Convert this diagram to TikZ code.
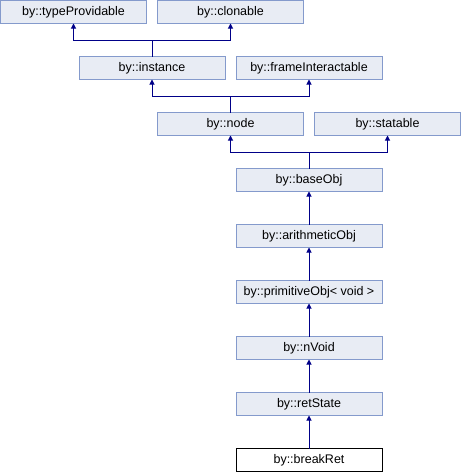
\documentclass[tikz,border=0pt]{standalone}
\usepackage{fontspec}
\setmainfont{Liberation Sans}
\usepackage{xcolor}
\usepackage{tikz}
\usetikzlibrary{arrows.meta}
\usetikzlibrary{positioning}

\definecolor{boxfill}{RGB}{232,236,244}
\definecolor{boxline}{RGB}{132,154,204}
\definecolor{edgeblue}{RGB}{0,0,136}

\tikzset{
	clsbox/.style={draw=boxline, fill=boxfill, line width=1pt, outer sep=0pt, minimum width=146pt, minimum height=23pt, inner sep=0pt, font=\fontsize{12.5}{14}\selectfont},
	curbox/.style={clsbox, draw=black, fill=white},
	inherit/.style={draw=edgeblue, line width=1pt, -{Triangle[length=5pt, width=5pt]}}
}

\begin{document}
\begin{tikzpicture}[node distance=33pt]
		\useasboundingbox (0,0) rectangle (461pt,-472pt);
		\node[clsbox, anchor=north west] at (0.5pt,-0.5pt) (typeProv) {by::typeProvidable};
		\node[clsbox, right=11pt of typeProv] (clonable) {by::clonable};
		
		\node[clsbox, below right=33pt and -67.5pt of typeProv] (instance) {by::instance};
		\node[clsbox, right=11pt of instance] (frameInter) {by::frameInteractable};
		
		\node[clsbox, below right=33pt and -67.5pt of instance] (node) {by::node};
		\node[clsbox, right=11pt of node] (statable) {by::statable};
		
		\node[clsbox, below right=33pt and -67.5pt of node] (baseObj) {by::baseObj};
		\node[clsbox, below=of baseObj] (arithObj) {by::arithmeticObj};
		\node[clsbox, below=of arithObj] (primObj) {by::primitiveObj< void >};
		\node[clsbox, below=of primObj] (nVoid) {by::nVoid};
		\node[clsbox, below=of nVoid] (retState) {by::retState};
		\node[curbox, below=of retState] (breakRet) {by::breakRet};
		
		%---------
		\draw[inherit] (instance.north)--++(0,16.5pt)-|(typeProv.south);
		\draw[inherit] (instance.north)--++(0,16.5pt)-|(clonable.south);
		\draw[inherit] (node.north)--++(0,16.5pt)-|(instance.south);
		\draw[inherit] (node.north)--++(0,16.5pt)-|(frameInter.south);
		\draw[inherit] (baseObj.north)--++(0,16.5pt)-|(node.south);
		\draw[inherit] (baseObj.north)--++(0,16.5pt)-|(statable.south);
		
		\draw[inherit] (arithObj)--(baseObj);
		\draw[inherit] (primObj)--(arithObj);
		\draw[inherit] (nVoid)--(primObj);
		\draw[inherit] (retState)--(nVoid);
		\draw[inherit] (breakRet)--(retState);
	\end{tikzpicture}
\end{document}
